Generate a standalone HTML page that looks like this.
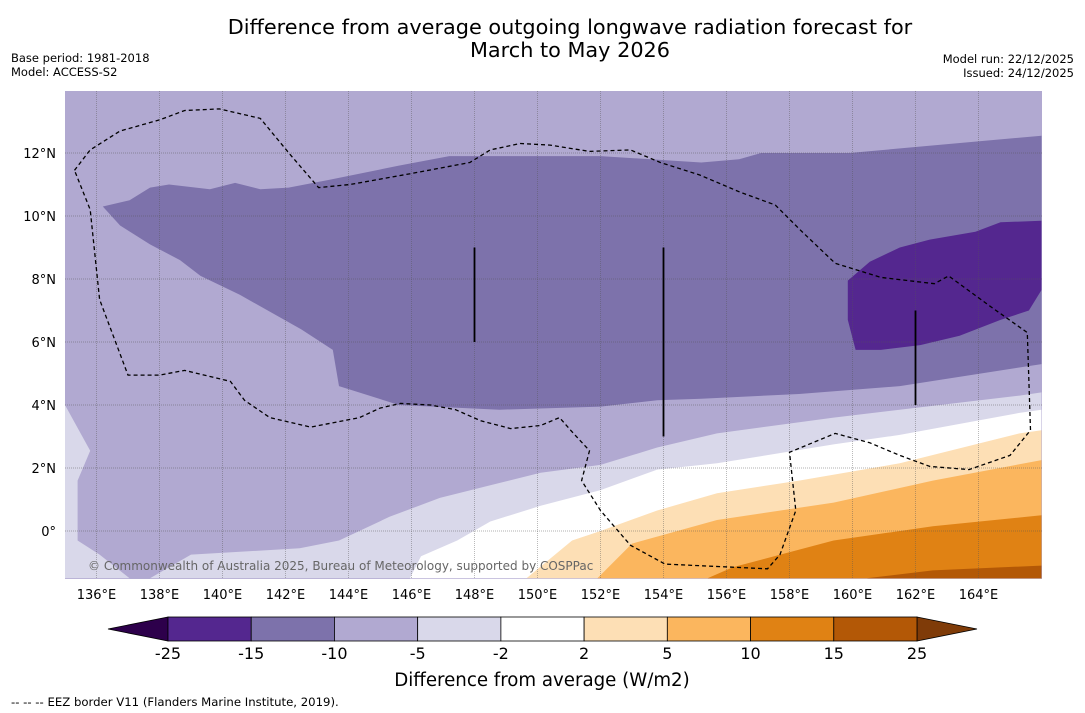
<!DOCTYPE html>
<html><head><meta charset="utf-8"><style>
body{margin:0;background:#fff;width:1085px;height:713px;overflow:hidden;font-family:"DejaVu Sans","Liberation Sans",sans-serif}
svg{position:absolute;left:0;top:0;font-family:"DejaVu Sans","Liberation Sans",sans-serif}
</style></head><body>
<svg id="chart" width="1085" height="713" xmlns="http://www.w3.org/2000/svg">
<text x="570" y="34" text-anchor="middle" font-size="20.8">Difference from average outgoing longwave radiation forecast for</text>
<text x="570" y="57" text-anchor="middle" font-size="20.8">March to May 2026</text>
<text x="11" y="62" font-size="11.5">Base period: 1981-2018</text>
<text x="11" y="76" font-size="11.5">Model: ACCESS-S2</text>
<text x="1074" y="63" font-size="11.5" text-anchor="end">Model run: 22/12/2025</text>
<text x="1074" y="77" font-size="11.5" text-anchor="end">Issued: 24/12/2025</text>
<g id="map"></g>
<g id="cbar"></g>
<text x="542" y="686" text-anchor="middle" font-size="18.2">Difference from average (W/m2)</text>
<text x="11" y="706" font-size="11.7">--  --  -- EEZ border V11 (Flanders Marine Institute, 2019).</text>
</svg>
<script>
const lonTicks=[136,138,140,142,144,146,148,150,152,154,156,158,160,162,164];
const latTicks=[0,2,4,6,8,10,12];
const levels=[-25,-15,-10,-5,-2,2,5,10,15,25];
const levelColors=["#54278f","#7d72ab","#b1a9d1","#d9d8ea","#ffffff","#fddfb5","#fbb65e","#e08214","#b35806"];
const regionBase="#b1a9d1";
const regionMid=[[136.2,10.3],[137.05,10.5],[137.7,10.9],[138.3,11.0],[139.6,10.85],[140.4,11.05],[141.2,10.85],[142.1,10.9],[143.4,11.15],[145.6,11.6],[147.2,11.9],[152,11.9],[155.2,11.7],[156.4,11.8],[157.1,12],[159.9,12],[166,12.55],[166,5.3],[161.5,4.6],[158.3,4.35],[155.2,4.2],[153.8,4.15],[152,3.95],[148.8,3.85],[145.6,4.0],[143.7,4.6],[143.5,5.75],[142.5,6.4],[140.55,7.5],[139.3,8.1],[138.65,8.6],[137.7,9.1],[136.75,9.7]];
const regionDark=[[159.85,7.95],[160.55,8.55],[161.5,9.0],[162.45,9.25],[163.9,9.5],[164.7,9.8],[166,9.85],[166,7.65],[165.6,7.0],[164.7,6.7],[163.4,6.2],[162.15,5.9],[160.9,5.75],[160.1,5.75],[159.85,6.7]];
const regionLight=[[137.7,-1.5],[139,-0.75],[142.45,-0.55],[143.7,-0.3],[145.3,0.45],[146.9,1.05],[148.5,1.45],[150.1,1.85],[152,2.1],[153.8,2.65],[155.7,3.1],[159.4,3.6],[165.3,4.3],[166,4.4],[166,-1.5]];
const regionLightLeft=[[135,4],[135.8,2.55],[135.4,1.6],[135.4,-0.3],[136.1,-0.75],[137.05,-1.5],[135,-1.5]];
const regionWhite=[[145.95,-1.5],[146.3,-0.8],[147.45,-0.3],[148.5,0.3],[150.1,0.8],[152,1.3],[153.8,1.95],[155.7,2.15],[159.4,2.75],[161.5,3.05],[165.3,3.75],[166,3.85],[166,-1.5]];
const regionPos2=[[149.65,-1.5],[151.1,-0.3],[152,0],[153.8,0.65],[155.7,1.2],[158.3,1.6],[161.5,2.15],[165.3,3.1],[166,3.2],[166,-1.5]];
const regionPos5=[[151.9,-1.5],[153,-0.4],[155.7,0.35],[159.4,0.9],[162.55,1.6],[166,2.25],[166,-1.5]];
const regionPos10=[[155.4,-1.5],[156.2,-1.15],[159.4,-0.3],[162.55,0.15],[166,0.5],[166,-1.5]];
const regionPos15=[[160.45,-1.5],[162.55,-1.25],[166,-1.1],[166,-1.5]];
const eezBorder=[[135.3,11.45],[135.8,12.1],[136.75,12.7],[138,13.05],[138.8,13.35],[139.9,13.4],[141.2,13.1],[142.15,11.95],[143.05,10.9],[144.05,11.0],[146,11.35],[147.85,11.7],[148.5,12.1],[149.45,12.3],[150.4,12.25],[151.65,12.05],[152.95,12.1],[153.9,11.7],[155.15,11.3],[156.45,10.75],[157.55,10.35],[158.35,9.55],[159.45,8.5],[160.9,8.05],[162.6,7.85],[163.05,8.1],[164.35,7.15],[165.55,6.3],[165.65,3.2],[165,2.4],[163.7,1.95],[162.45,2.05],[161.5,2.4],[160.55,2.8],[159.45,3.1],[158,2.5],[158.2,0.65],[157.7,-0.75],[157.3,-1.2],[154.05,-1.05],[152.95,-0.45],[152,0.65],[151.4,1.6],[151.65,2.55],[151.05,3.2],[150.7,3.6],[150.1,3.35],[149.15,3.25],[148.2,3.5],[147.4,3.85],[146.6,4.0],[145.65,4.05],[145,3.9],[144.35,3.6],[142.8,3.3],[141.5,3.6],[140.7,4.15],[140.25,4.75],[138.8,5.1],[138,4.95],[137,4.95],[136.1,7.35],[135.8,10.2],[135.3,11.45]];
const markerLines=[[148,6,9],[154,3,9],[162,4,7]];

const X0=65,X1=1042,Y0=91,Y1=579,LON0=135,LAT0=0,PX=31.5;
function xs(lon){return X0+(lon-LON0)*PX;}
function ys(lat){return 531-(lat-LAT0)*PX;}
const NS="http://www.w3.org/2000/svg";
function mk(tag,attrs,parent){const e=document.createElementNS(NS,tag);for(const k in attrs)e.setAttribute(k,attrs[k]);parent.appendChild(e);return e;}
const map=document.getElementById('map');
const defs=mk('defs',{},map);
const cp=mk('clipPath',{id:'clip'},defs);
mk('rect',{x:X0,y:Y0,width:X1-X0,height:Y1-Y0},cp);
const g=mk('g',{'clip-path':'url(#clip)'},map);
const bg=mk('rect',{x:X0,y:Y0,width:X1-X0,height:Y1-Y0,fill:regionBase},g);


function pts(a){return a.map(p=>xs(p[0]).toFixed(1)+','+ys(p[1]).toFixed(1)).join(' ');}
const regs=[[regionMid,1,'contour-minus15-to-minus10'],[regionDark,0,'contour-minus25-to-minus15'],[regionLight,3,'contour-minus5-to-minus2'],[regionLightLeft,3,'contour-minus5-to-minus2-west'],[regionWhite,4,'contour-minus2-to-2'],[regionPos2,5,'contour-2-to-5'],[regionPos5,6,'contour-5-to-10'],[regionPos10,7,'contour-10-to-15'],[regionPos15,8,'contour-15-to-25']];
regs.forEach(r=>{const p=mk('polygon',{points:pts(r[0]),fill:levelColors[r[1]]},g);

});
lonTicks.forEach(l=>{const x=xs(l);
const ln=mk('line',{x1:x,x2:x,y1:Y0,y2:Y1,stroke:'#555','stroke-width':0.8,'stroke-opacity':0.5,'stroke-dasharray':'1,1'},g);


const t=mk('text',{x:x,y:599,'text-anchor':'middle','font-size':13},map);t.textContent=l+'°E';

});
latTicks.forEach(l=>{const y=ys(l);
const ln=mk('line',{x1:X0,x2:X1,y1:y,y2:y,stroke:'#555','stroke-width':0.8,'stroke-opacity':0.6,'stroke-dasharray':'1,1'},g);


const t=mk('text',{x:56,y:y+5,'text-anchor':'end','font-size':13},map);t.textContent=l===0?'0°':l+'°N';

});
const eez=mk('polyline',{points:pts(eezBorder),fill:'none',stroke:'#000','stroke-width':1.3,'stroke-dasharray':'4,3'},g);


markerLines.forEach(m=>{const l=mk('line',{x1:xs(m[0]),x2:xs(m[0]),y1:ys(m[1]),y2:ys(m[2]),stroke:'#000','stroke-width':1.8},g);

});
const cr=mk('text',{x:88,y:570,'font-size':12,fill:'#666'},g);cr.textContent='© Commonwealth of Australia 2025, Bureau of Meteorology, supported by COSPPac';


const cb=document.getElementById('cbar');
const CB0=168,CB1=917,CBY=617,CBH=24,seg=(CB1-CB0)/levelColors.length;
const lo=mk('polygon',{points:`${CB0},${CBY} ${CB0-60},${CBY+CBH/2} ${CB0},${CBY+CBH}`,fill:'#2d004b',stroke:'#000','stroke-width':0.8},cb);


const hi=mk('polygon',{points:`${CB1},${CBY} ${CB1+60},${CBY+CBH/2} ${CB1},${CBY+CBH}`,fill:'#7f3b08',stroke:'#000','stroke-width':0.8},cb);


levelColors.forEach((c,i)=>{const r=mk('rect',{x:CB0+i*seg,y:CBY,width:seg,height:CBH,fill:c,stroke:'#000','stroke-width':0.8},cb);

});
levels.forEach((v,i)=>{const t=mk('text',{x:CB0+i*seg,y:659,'text-anchor':'middle','font-size':16},cb);t.textContent=v;

});
</script>
</body></html>
